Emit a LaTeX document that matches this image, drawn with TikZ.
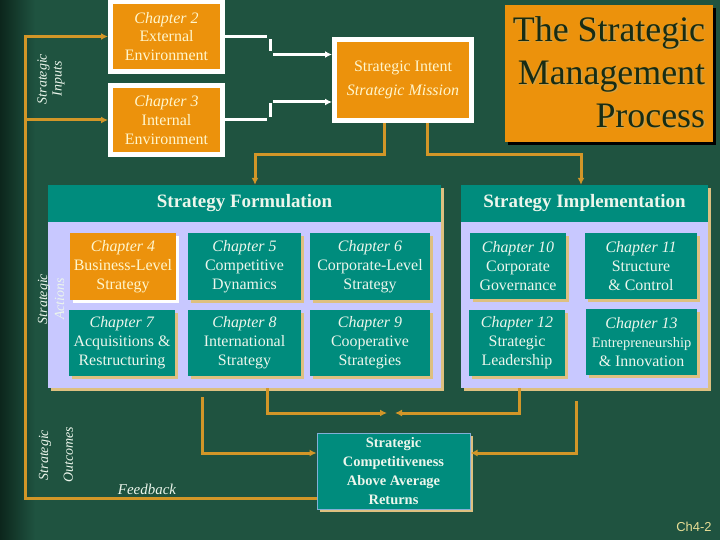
\documentclass[tikz,border=0pt]{standalone}
\usepackage{fontspec}
\setmainfont{Liberation Serif}
\newfontfamily\slidesans{Liberation Sans}
\usetikzlibrary{arrows.meta,shadows}

\definecolor{slidebg}{RGB}{31,83,64}
\definecolor{slidedark}{RGB}{12,38,28}
\definecolor{boxorange}{RGB}{236,146,12}
\definecolor{boxteal}{RGB}{0,140,125}
\definecolor{panelblue}{RGB}{200,200,255}
\definecolor{shadowtan}{RGB}{222,192,128}
\definecolor{linkorange}{RGB}{210,150,40}
\definecolor{creamtext}{RGB}{255,246,205}
\definecolor{paletext}{RGB}{236,246,236}
\definecolor{titleink}{RGB}{24,44,20}
\definecolor{titleshade}{RGB}{205,160,70}
\definecolor{edgeblue}{RGB}{130,175,215}
\definecolor{pagenum}{RGB}{232,222,150}

\tikzset{
  inbox/.style={fill=boxorange, draw=white, line width=5bp, text=creamtext, align=center,
    inner sep=2bp, font=\fontsize{16}{19}\selectfont},
  chapbox/.style={fill=boxteal, text=paletext, align=center, inner sep=2bp, minimum height=66bp,
    font=\fontsize{16}{19}\selectfont,
    drop shadow={shadow xshift=3bp, shadow yshift=-3bp, fill=#1, opacity=1}},
  chapbox/.default=shadowtan,
  panel/.style={fill=panelblue,
    drop shadow={shadow xshift=3bp, shadow yshift=-3bp, fill=shadowtan, opacity=1}},
  panelhead/.style={fill=boxteal, text=paletext, font=\bfseries\fontsize{19}{22}\selectfont,
    minimum height=37bp},
  titletext/.style={align=right, text=titleink, font=\fontsize{36}{43}\selectfont},
  sidelabel/.style={rotate=90, align=center, text=paletext, inner sep=0pt,
    font=\itshape\fontsize{14}{15}\selectfont},
  link/.style={draw=linkorange, line width=3bp, -{Latex[length=7bp,width=7bp]}},
  wire/.style={draw=white, line width=3bp},
  wirehead/.style={wire, -{Latex[length=7bp,width=7bp]}},
}

\begin{document}
\begin{tikzpicture}[x=1bp,y=-1bp]
\useasboundingbox (0,0) rectangle (720,540);
\fill[slidebg] (0,0) rectangle (720,540);
\shade[left color=slidedark, right color=slidebg] (0,0) rectangle (35,540);

% the two panels
\node[panel, minimum width=393bp, minimum height=203bp] (form) at (244.5,286.5) {};
\node[panelhead, minimum width=393bp] (formhead) at (244.5,203.5) {Strategy Formulation};
\node[panel, minimum width=247bp, minimum height=203bp] (impl) at (584.5,286.5) {};
\node[panelhead, minimum width=247bp] (implhead) at (584.5,203.5) {Strategy Implementation};

\node[chapbox=white, fill=boxorange, text=creamtext, minimum width=106bp] (ch4) at (123,266.5)
  {\textit{Chapter 4}\\Business-Level\\Strategy};
\foreach \chap/\cx/\cy/\cw/\txt in {
  5/244.5/266.5/113/{Competitive\\Dynamics},
  6/370/266.5/120/{Corporate-Level\\Strategy},
  7/122/343/106/{Acquisitions \&\\Restructuring},
  8/244.5/343/113/{International\\Strategy},
  9/370/343/120/{Cooperative\\Strategies},
  10/518/266/96/{Corporate\\Governance},
  11/641/266/112/{Structure\\\& Control},
  12/517/342.5/96/{Strategic\\Leadership},
  13/641.5/342/111/{{\fontsize{14.5}{17}\selectfont Entrepreneurship}\\\& Innovation}} {
  \node[chapbox, minimum width=\cw*1bp] (ch\chap) at (\cx,\cy) {\textit{Chapter \chap}\\\txt};
}

% inputs
\node[inbox, minimum width=112bp, minimum height=70bp] (ch2) at (166.5,36.5)
  {\textit{Chapter 2}\\External\\Environment};
\node[inbox, minimum width=112bp, minimum height=69bp] (ch3) at (166.5,120)
  {\textit{Chapter 3}\\Internal\\Environment};
\node[inbox, minimum width=137bp, minimum height=81bp] (intent) at (403,80)
  {Strategic Intent\\[5bp]\textit{Strategic Mission}};

% title
\node[fill=boxorange, minimum width=208bp, minimum height=137bp,
  drop shadow={shadow xshift=3bp, shadow yshift=-3bp, fill=black, opacity=1}] (title) at (609,73.5) {};
\node[titletext, text=titleshade] (titleback) at (610.5,73.5) {The Strategic\\Management\\Process};
\node[titletext] (titletxt) at (609,72) {The Strategic\\Management\\Process};

% outcome
\node[chapbox, draw=edgeblue, line width=1bp, minimum width=153bp, minimum height=76bp,
  font=\bfseries\fontsize{14.5}{19}\selectfont] (ret) at (393.5,471)
  {Strategic\\Competitiveness\\Above Average\\Returns};

% white connectors
\draw[wire] (ch2.east) -- ++(42,0) coordinate (k2);
\draw[wire] ([shift={(3,3)}]k2) -- ++(0,12);
\draw[wirehead] ([shift={(6,18)}]k2) coordinate (k2b) -- (k2b -| intent.west);
\draw[wire] (ch3.east) -- ++(42,0) coordinate (k3);
\draw[wire] ([shift={(3,-3)}]k3) -- ++(0,-14);
\draw[wirehead] ([shift={(6,-18)}]k3) coordinate (k3b) -- (k3b -| intent.west);

% orange connectors
\draw[link] ([xshift=-19bp]intent.south) -- ++(0,32) -| ([xshift=10.5bp]form.north);
\draw[link] ([xshift=24bp]intent.south) -- ++(0,32) -| ([xshift=-3.5bp]impl.north);

\coordinate (meet) at (391,413);
\draw[link] ([xshift=22.5bp]form.south) |- ([xshift=-4bp]meet);
\draw[link] ([xshift=-65.5bp]impl.south) |- ([xshift=4bp]meet);
\draw[link] ([shift={(-42.5,9)}]form.south) |- ([shift={(0,-18)}]ret.west);
\draw[link] ([shift={(-8.5,13)}]impl.south) |- ([shift={(0,-18)}]ret.east);

\coordinate (fb) at (25,498);
\draw[link] ([shift={(0,27)}]ret.west) -- (fb) |- (ch2.west);
\draw[link] (fb |- ch3.west) -- (ch3.west);

% labels
\node[sidelabel] (inputs) at (51,79) {Strategic\\Inputs};
\node[sidelabel, font=\itshape\fontsize{14}{17}\selectfont] (actions) at (51,299) {Strategic\\Actions};
\node[sidelabel, font=\itshape\fontsize{14}{25}\selectfont] (outcomes) at (56,455) {Strategic\\Outcomes};
\node[text=paletext, font=\itshape\fontsize{15}{18}\selectfont] (feedback) at (147,489) {Feedback};
\node[text=pagenum, font=\slidesans\fontsize{13}{15}\selectfont] (pnum) at (694,527) {Ch4-2};
\end{tikzpicture}
\end{document}
